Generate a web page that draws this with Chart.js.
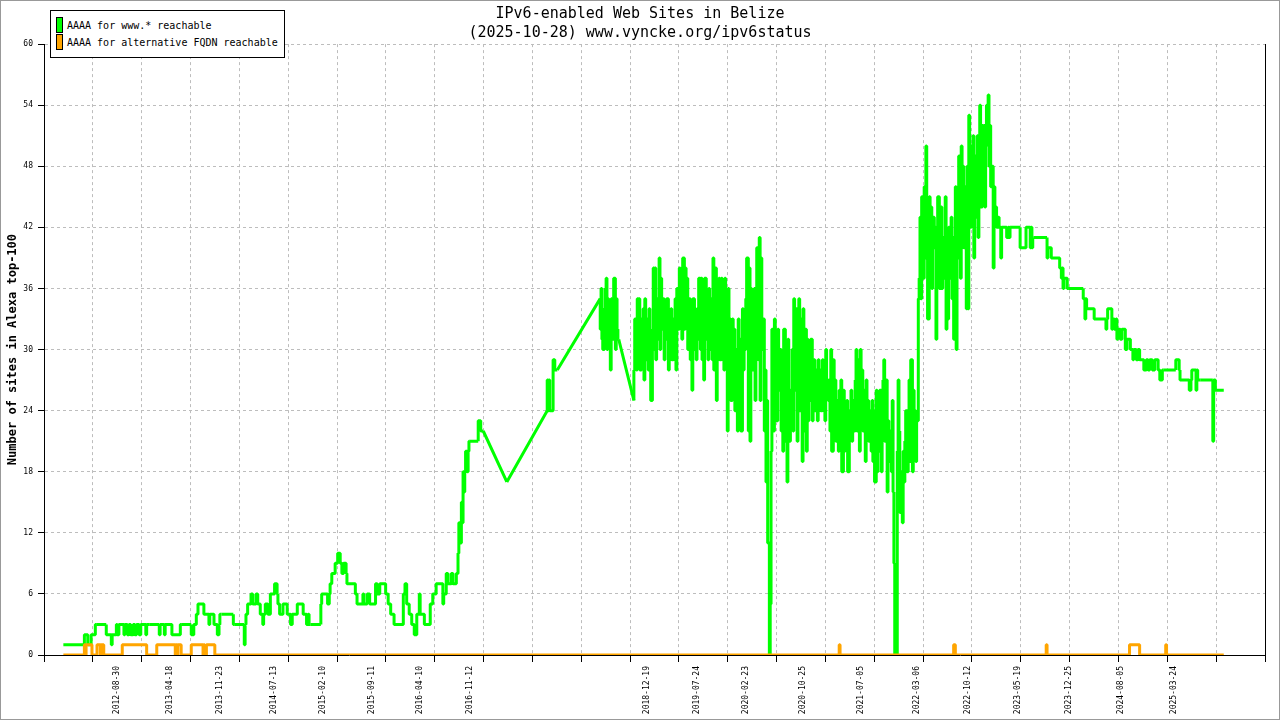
<!DOCTYPE html>
<html lang="en">
<head>
    <meta charset="UTF-8">
    <meta name="viewport" content="width=device-width, initial-scale=1.0">
    <title>IPv6-enabled Web Sites in Belize</title>
    <script src="https://cdn.jsdelivr.net/npm/chart.js"></script>
    <style>
        body {
            margin: 0;
            padding: 0;
            background-color: #fff;
        }

        #wrap {
            position: relative;
            width: 1280px;
            height: 720px;
        }

        #ipv6Chart {
            display: block;
        }

        #frame {
            position: absolute;
            left: 0;
            top: 0;
            width: 1280px;
            height: 720px;
            box-sizing: border-box;
            border: 1px solid #999;
            pointer-events: none;
        }

        #legend {
            position: absolute;
            left: 50px;
            top: 10px;
            width: 235px;
            height: 48px;
            box-sizing: border-box;
            border: 1px solid #000;
            background-color: #fff;
            font-family: 'DejaVu Sans Mono', monospace;
            font-size: 10px;
            color: #000;
        }

        #legend .swatch {
            position: absolute;
            left: 5px;
            width: 5px;
            height: 14px;
            border: 1px solid #000;
        }

        #legend .label {
            position: absolute;
            left: 16px;
            line-height: 12px;
            white-space: nowrap;
        }
    </style>
</head>
<body>
    <div id="wrap">
        <canvas id="ipv6Chart" width="1280" height="720"></canvas>
        <div id="legend"></div>
        <div id="frame"></div>
    </div>

    <script>
        // chart texts
        const chartTitle = ['IPv6-enabled Web Sites in Belize', '(2025-10-28) www.vyncke.org/ipv6status'];
        const yAxisTitle = 'Number of sites in Alexa top-100';
        const seriesNames = ['AAAA for www.* reachable', 'AAAA for alternative FQDN reachable'];
        const seriesColors = ['#00ff00', '#ffa500'];

        // dates printed under the x axis
        const tickDates = [
            '2012-08-30', '2013-04-18', '2013-11-23', '2014-07-13', '2015-02-10', '2015-09-11',
            '2016-04-10', '2016-11-12', '2018-12-19', '2019-07-24', '2020-02-23', '2020-10-25',
            '2021-07-05', '2022-03-06', '2022-10-12', '2023-05-19', '2023-12-25', '2024-08-05',
            '2025-03-24'
        ];

        // axis ranges (x in decimal years)
        const xMin = 2011.80;
        const xMax = 2026.31;
        const xGridSteps = 25;
        const yMin = 0;
        const yMax = 60;
        const yStep = 6;

        // no samples for longer than this (years): the line is drawn straight across
        const gapYears = 0.1;

        // AAAA for www.* reachable: sample dates (decimal years) and site counts
        const wwwYears = [
            2012.03, 2012.28, 2012.29, 2012.32, 2012.34, 2012.36, 2012.37, 2012.41, 2012.42, 2012.54,
            2012.55, 2012.60, 2012.61, 2012.62, 2012.66, 2012.67, 2012.69, 2012.71, 2012.75, 2012.76,
            2012.79, 2012.81, 2012.83, 2012.86, 2012.88, 2012.90, 2012.93, 2012.95, 2012.98, 2013.01,
            2013.02, 2013.05, 2013.17, 2013.18, 2013.19, 2013.23, 2013.24, 2013.25, 2013.32, 2013.33,
            2013.42, 2013.43, 2013.55, 2013.56, 2013.58, 2013.61, 2013.63, 2013.65, 2013.70, 2013.71,
            2013.76, 2013.77, 2013.78, 2013.82, 2013.83, 2013.86, 2013.88, 2013.89, 2013.91, 2014.05,
            2014.06, 2014.18, 2014.19, 2014.20, 2014.22, 2014.26, 2014.28, 2014.32, 2014.34, 2014.37,
            2014.40, 2014.41, 2014.43, 2014.46, 2014.49, 2014.51, 2014.54, 2014.57, 2014.58, 2014.60,
            2014.64, 2014.65, 2014.69, 2014.70, 2014.73, 2014.75, 2014.76, 2014.81, 2014.82, 2014.88,
            2014.89, 2014.92, 2014.94, 2014.95, 2014.97, 2015.09, 2015.10, 2015.13, 2015.17, 2015.19,
            2015.20, 2015.22, 2015.26, 2015.29, 2015.32, 2015.34, 2015.36, 2015.39, 2015.40, 2015.42,
            2015.50, 2015.52, 2015.54, 2015.59, 2015.60, 2015.64, 2015.67, 2015.70, 2015.74, 2015.76,
            2015.79, 2015.82, 2015.86, 2015.89, 2015.92, 2015.96, 2015.99, 2016.07, 2016.09, 2016.11,
            2016.14, 2016.17, 2016.20, 2016.23, 2016.26, 2016.27, 2016.29, 2016.32, 2016.34, 2016.39,
            2016.42, 2016.46, 2016.48, 2016.54, 2016.55, 2016.58, 2016.60, 2016.64, 2016.66, 2016.70,
            2016.72, 2016.73, 2016.74, 2016.76, 2016.77, 2016.78, 2016.79, 2016.80, 2016.81, 2016.83,
            2016.84, 2016.85, 2016.86, 2016.96, 2016.98, 2016.99, 2017.00, 2017.02, 2017.30, 2017.78,
            2017.79, 2017.80, 2017.81, 2017.82, 2017.85, 2017.87, 2017.88, 2017.90,
            2018.41, 2018.42, 2018.43, 2018.44, 2018.46, 2018.47, 2018.48, 2018.49, 2018.50, 2018.51,
            2018.53, 2018.54, 2018.55, 2018.56, 2018.57, 2018.59, 2018.60, 2018.61, 2018.62, 2018.63,
            2018.81, 2018.82, 2018.84, 2018.85, 2018.86, 2018.87,
            2018.88, 2018.90, 2018.91, 2018.92, 2018.93, 2018.94, 2018.95, 2018.97, 2018.98, 2018.99,
            2019.00, 2019.01, 2019.03, 2019.04, 2019.05, 2019.06, 2019.07, 2019.08, 2019.10, 2019.11,
            2019.12, 2019.13, 2019.14, 2019.16, 2019.17, 2019.18, 2019.19, 2019.20, 2019.22, 2019.23,
            2019.24, 2019.25, 2019.26, 2019.28, 2019.29, 2019.30, 2019.31, 2019.32, 2019.33, 2019.35,
            2019.36, 2019.37, 2019.38, 2019.39, 2019.41, 2019.42, 2019.43, 2019.44, 2019.45, 2019.47,
            2019.48, 2019.49, 2019.50, 2019.51, 2019.53, 2019.54, 2019.55, 2019.56, 2019.57, 2019.58,
            2019.60, 2019.61, 2019.62, 2019.63, 2019.64, 2019.65, 2019.67, 2019.68, 2019.69, 2019.70,
            2019.71, 2019.73, 2019.74, 2019.75, 2019.76, 2019.77, 2019.79, 2019.80, 2019.81, 2019.82,
            2019.83, 2019.85, 2019.86, 2019.87, 2019.88, 2019.89, 2019.90, 2019.92, 2019.93, 2019.94,
            2019.95, 2019.96, 2019.98, 2019.99, 2020.00, 2020.01, 2020.02, 2020.04, 2020.05, 2020.06,
            2020.07, 2020.08, 2020.10, 2020.11, 2020.12, 2020.13, 2020.14, 2020.15, 2020.17, 2020.18,
            2020.19, 2020.20, 2020.21, 2020.23, 2020.24, 2020.25, 2020.26, 2020.27, 2020.29, 2020.30,
            2020.31, 2020.32, 2020.33, 2020.34, 2020.36, 2020.37, 2020.38, 2020.39, 2020.40, 2020.42,
            2020.43, 2020.44, 2020.45, 2020.46, 2020.48, 2020.49, 2020.50, 2020.51, 2020.52, 2020.53,
            2020.55, 2020.56, 2020.57, 2020.58, 2020.59, 2020.61, 2020.62, 2020.63, 2020.64, 2020.65,
            2020.67, 2020.68, 2020.69, 2020.70, 2020.71, 2020.72, 2020.74, 2020.75, 2020.76, 2020.77,
            2020.78, 2020.80, 2020.81, 2020.82, 2020.83, 2020.84, 2020.86, 2020.87, 2020.88, 2020.89,
            2020.90, 2020.91, 2020.93, 2020.94, 2020.95, 2020.96, 2020.97, 2020.99, 2021.00, 2021.01,
            2021.02, 2021.03, 2021.05, 2021.06, 2021.07, 2021.08, 2021.09, 2021.10, 2021.12, 2021.13,
            2021.14, 2021.15, 2021.16, 2021.18, 2021.19, 2021.20, 2021.21, 2021.22, 2021.24, 2021.25,
            2021.26, 2021.27, 2021.28, 2021.30, 2021.31, 2021.32, 2021.33, 2021.34, 2021.35, 2021.37,
            2021.38, 2021.39, 2021.40, 2021.41, 2021.43, 2021.44, 2021.45, 2021.46, 2021.47, 2021.49,
            2021.50, 2021.51, 2021.52, 2021.53, 2021.55, 2021.56, 2021.57, 2021.58, 2021.59, 2021.60,
            2021.62, 2021.63, 2021.64, 2021.65, 2021.66, 2021.67, 2021.69, 2021.70, 2021.71, 2021.72,
            2021.73, 2021.75, 2021.76, 2021.77, 2021.78, 2021.79, 2021.81, 2021.82, 2021.83, 2021.84,
            2021.85, 2021.87, 2021.88, 2021.89, 2021.90, 2021.91, 2021.92, 2021.94, 2021.95, 2021.96,
            2021.97, 2021.98, 2022.00, 2022.01, 2022.02, 2022.03, 2022.04, 2022.06, 2022.07, 2022.08,
            2022.09, 2022.10, 2022.12, 2022.13, 2022.14, 2022.15, 2022.16, 2022.17, 2022.19, 2022.20,
            2022.21, 2022.22, 2022.23, 2022.25, 2022.26, 2022.27, 2022.28, 2022.29, 2022.30, 2022.32,
            2022.33, 2022.34, 2022.35, 2022.36, 2022.38, 2022.39, 2022.40, 2022.41, 2022.42, 2022.44,
            2022.45, 2022.46, 2022.47, 2022.48, 2022.50, 2022.51, 2022.52, 2022.53, 2022.54, 2022.55,
            2022.57, 2022.58, 2022.59, 2022.60, 2022.61, 2022.63, 2022.64, 2022.65, 2022.66, 2022.67,
            2022.69, 2022.70, 2022.71, 2022.72, 2022.73, 2022.74, 2022.76, 2022.77, 2022.78, 2022.79,
            2022.80, 2022.82, 2022.83, 2022.84, 2022.85, 2022.86, 2022.88, 2022.89, 2022.90, 2022.91,
            2022.92, 2022.93, 2022.95, 2022.96, 2022.97, 2022.98, 2022.99, 2023.00, 2023.02, 2023.03,
            2023.04, 2023.05, 2023.07, 2023.08, 2023.09, 2023.10, 2023.11, 2023.12, 2023.14, 2023.15,
            2023.16, 2023.17, 2023.18, 2023.20, 2023.24, 2023.26, 2023.27, 2023.28, 2023.29, 2023.40,
            2023.41, 2023.47, 2023.48, 2023.52, 2023.53, 2023.54, 2023.55, 2023.56, 2023.72, 2023.73,
            2023.74, 2023.77, 2023.78, 2023.87, 2023.89, 2023.90, 2023.91, 2023.92, 2023.93, 2023.96,
            2023.97, 2024.15, 2024.16, 2024.17, 2024.18, 2024.19, 2024.21, 2024.28, 2024.29, 2024.42,
            2024.43, 2024.44, 2024.47, 2024.49, 2024.50, 2024.52, 2024.54, 2024.55, 2024.56, 2024.59,
            2024.61, 2024.63, 2024.65, 2024.67, 2024.68, 2024.71, 2024.72, 2024.74, 2024.75, 2024.78,
            2024.80, 2024.82, 2024.85, 2024.87, 2024.90, 2024.92, 2024.94, 2024.97, 2025.00, 2025.04,
            2025.06, 2025.07, 2025.09, 2025.10, 2025.25, 2025.26, 2025.29, 2025.30, 2025.32, 2025.41,
            2025.43, 2025.44, 2025.47, 2025.49, 2025.50, 2025.51, 2025.54, 2025.69, 2025.70, 2025.72,
            2025.73, 2025.82
        ];
        const wwwSites = [
            1, 1, 2, 2, 1, 1, 2, 2, 3, 3,
            2, 2, 1, 2, 2, 3, 2, 3, 3, 2,
            3, 2, 3, 2, 3, 2, 3, 2, 3, 3,
            2, 3, 3, 2, 3, 3, 2, 3, 3, 2,
            2, 3, 3, 2, 2, 3, 4, 5, 5, 4,
            4, 3, 4, 4, 3, 3, 2, 3, 4, 4,
            3, 3, 1, 3, 4, 5, 6, 5, 6, 5,
            4, 3, 4, 5, 4, 6, 6, 7, 6, 5,
            4, 5, 5, 4, 4, 3, 4, 4, 5, 5,
            4, 4, 3, 4, 3, 3, 5, 6, 6, 5,
            6, 7, 8, 9, 10, 9, 8, 9, 8, 7,
            7, 6, 5, 5, 6, 5, 6, 5, 5, 7,
            6, 7, 7, 6, 5, 4, 3, 3, 6, 7,
            5, 4, 3, 2, 4, 6, 4, 4, 3, 3,
            5, 6, 7, 7, 5, 6, 8, 7, 8, 7,
            8, 10, 13, 11, 15, 13, 18, 16, 18, 20,
            18, 20, 21, 21, 23, 23, 22, 22, 17, 24,
            27, 24, 27, 24, 24, 29, 28, 28,
            35, 32, 36, 31, 30, 34, 36, 37, 30, 35,
            33, 28, 35, 34, 31, 37, 30, 35, 32, 31,
            25, 28, 33, 28, 35, 30,
            35, 28, 33, 30, 34, 27, 35, 29, 33, 28,
            34, 30, 25, 32, 38, 30, 38, 29, 35, 31,
            39, 30, 37, 32, 35, 29, 34, 31, 35, 28,
            33, 30, 34, 29, 33, 31, 35, 28, 36, 32,
            38, 33, 37, 31, 39, 32, 38, 33, 37, 30,
            35, 29, 34, 26, 35, 30, 33, 29, 34, 31,
            37, 30, 37, 29, 36, 27, 37, 31, 35, 29,
            36, 30, 35, 29, 39, 28, 38, 25, 35, 30,
            37, 29, 37, 31, 36, 28, 37, 30, 22, 36,
            28, 33, 25, 33, 27, 32, 24, 30, 22, 33,
            26, 31, 22, 34, 28, 33, 30, 35, 39, 22,
            38, 21, 36, 28, 30, 36, 25, 35, 40, 29,
            41, 25, 39, 30, 33, 22, 28, 17, 25, 11,
            0, 5, 20, 32, 22, 33, 24, 31, 23, 32,
            26, 30, 22, 29, 20, 32, 21, 28, 17, 31,
            21, 26, 24, 30, 22, 35, 26, 34, 21, 29,
            35, 24, 33, 19, 34, 22, 32, 20, 31, 23,
            29, 25, 31, 23, 28, 29, 24, 28, 23, 29,
            25, 28, 24, 29, 26, 28, 23, 30, 27, 25,
            27, 22, 30, 20, 29, 24, 27, 21, 25, 20,
            26, 23, 27, 18, 26, 20, 24, 21, 25, 18,
            24, 22, 26, 21, 25, 22, 27, 30, 22, 29,
            20, 30, 24, 28, 22, 26, 19, 27, 23, 25,
            21, 24, 20, 25, 19, 24, 17, 26, 18, 25,
            20, 26, 18, 24, 27, 29, 21, 27, 16, 23,
            19, 22, 18, 25, 16, 9, 0, 0, 20, 27,
            22, 14, 18, 13, 20, 17, 21, 24, 18, 23,
            27, 19, 29, 18, 26, 20, 24, 19, 23, 35,
            37, 43, 35, 45, 37, 46, 39, 50, 42, 33,
            45, 38, 44, 36, 43, 40, 42, 31, 38, 45,
            36, 40, 44, 36, 41, 37, 45, 32, 40, 33,
            42, 37, 43, 35, 41, 31, 46, 30, 42, 39,
            49, 37, 50, 42, 48, 40, 46, 34, 48, 34,
            53, 42, 50, 45, 51, 39, 49, 43, 51, 41,
            48, 54, 44, 52, 46, 52, 44, 50, 54, 55,
            48, 52, 46, 48, 38, 46, 43, 44, 42, 43,
            42, 42, 39, 42, 42, 41, 42, 41, 42, 42,
            40, 40, 42, 42, 40, 42, 40, 41, 41, 39,
            40, 40, 39, 39, 38, 37, 38, 36, 37, 37,
            36, 36, 35, 35, 33, 35, 34, 34, 33, 33,
            32, 33, 34, 34, 32, 33, 32, 33, 31, 32,
            31, 32, 32, 30, 31, 31, 30, 30, 29, 30,
            29, 30, 29, 29, 28, 29, 28, 29, 28, 29,
            28, 27, 27, 28, 28, 29, 29, 28, 27, 27,
            26, 27, 28, 28, 26, 28, 27, 27, 21, 27,
            26, 26
        ];

        // AAAA for alternative FQDN reachable
        const altYears = [
            2012.03, 2012.28, 2012.29, 2012.30, 2012.31, 2012.37, 2012.38, 2012.43, 2012.44, 2012.47,
            2012.48, 2012.49, 2012.51, 2012.53, 2012.73, 2012.74, 2013.02, 2013.04, 2013.14, 2013.15,
            2013.36, 2013.37, 2013.38, 2013.39, 2013.40, 2013.43, 2013.44, 2013.55, 2013.56, 2013.69,
            2013.70, 2013.71, 2013.73, 2013.74, 2013.83, 2013.84, 2021.25, 2021.26, 2021.27, 2022.61,
            2022.63, 2022.64, 2023.71, 2023.72, 2023.73, 2024.70, 2024.73, 2024.82, 2024.84, 2025.13,
            2025.14, 2025.15, 2025.82
        ];
        const altSites = [
            0, 0, 1, 0, 1, 1, 0, 0, 1, 1,
            0, 1, 1, 0, 0, 1, 1, 0, 0, 1,
            1, 0, 1, 0, 1, 1, 0, 0, 1, 1,
            0, 1, 0, 1, 1, 0, 0, 1, 0, 0,
            1, 0, 0, 1, 0, 0, 1, 1, 0, 0,
            1, 0, 0
        ];

        // 'YYYY-MM-DD' -> decimal year
        function decimalYear(iso) {
            const [y, m, d] = iso.split('-').map(Number);
            const start = Date.UTC(y, 0, 1);
            const end = Date.UTC(y + 1, 0, 1);
            return y + (Date.UTC(y, m - 1, d) - start) / (end - start);
        }

        // evenly spaced grid ticks plus the dated label ticks
        const xTicks = [];
        for (let i = 0; i <= xGridSteps; i++) {
            xTicks.push({ value: xMin + (xMax - xMin) * i / xGridSteps, edge: i === 0 || i === xGridSteps });
        }
        tickDates.forEach(d => xTicks.push({ value: decimalYear(d), dateLabel: d }));
        xTicks.sort((a, b) => a.value - b.value);

        // daily-style steps where samples are dense, straight links across the gaps
        const wwwSteps = [];
        const wwwLinks = [];
        wwwYears.forEach((x, i) => {
            wwwSteps.push({ x: x, y: wwwSites[i] });
            const next = wwwYears[i + 1];
            if (next !== undefined && next - x > gapYears) {
                wwwSteps.push({ x: x, y: null });
                wwwLinks.push({ x: x, y: wwwSites[i] }, { x: next, y: wwwSites[i + 1] }, { x: next, y: null });
            }
        });

        // legend box
        const legend = document.getElementById('legend');
        seriesNames.forEach((name, i) => {
            const sw = document.createElement('div');
            sw.className = 'swatch';
            sw.style.top = (6 + i * 17) + 'px';
            sw.style.backgroundColor = seriesColors[i];
            legend.appendChild(sw);

            const lbl = document.createElement('div');
            lbl.className = 'label';
            lbl.style.top = (9 + i * 17) + 'px';
            lbl.textContent = name;
            legend.appendChild(lbl);
        });

        Chart.defaults.font.family = "'DejaVu Sans Mono', monospace";
        Chart.defaults.color = '#000';

        const lineStyle = {
            borderWidth: 3,
            borderJoinStyle: 'bevel',
            pointRadius: 0,
            tension: 0
        };

        const ctx = document.getElementById('ipv6Chart').getContext('2d');
        new Chart(ctx, {
            type: 'line',
            data: {
                datasets: [{
                    ...lineStyle,
                    label: seriesNames[1],
                    data: altYears.map((x, i) => ({ x: x, y: altSites[i] })),
                    borderColor: seriesColors[1],
                    stepped: 'after',
                    order: 0
                }, {
                    ...lineStyle,
                    label: seriesNames[0],
                    data: wwwSteps,
                    borderColor: seriesColors[0],
                    stepped: 'after',
                    order: 1
                }, {
                    ...lineStyle,
                    label: seriesNames[0] + ' (gaps)',
                    data: wwwLinks,
                    borderColor: seriesColors[0],
                    order: 2
                }]
            },
            options: {
                responsive: false,
                animation: false,
                layout: {
                    padding: { left: 0, right: 0, top: 0, bottom: 0 }
                },
                plugins: {
                    legend: { display: false },
                    tooltip: { enabled: false },
                    title: {
                        display: true,
                        text: chartTitle,
                        color: '#000',
                        font: { size: 15, weight: 'normal', lineHeight: 1.27 },
                        padding: { top: 5, bottom: 1 }
                    }
                },
                scales: {
                    x: {
                        type: 'linear',
                        min: xMin,
                        max: xMax,
                        afterBuildTicks: scale => { scale.ticks = xTicks; },
                        afterFit: scale => { scale.height = 65; },
                        ticks: {
                            autoSkip: false,
                            minRotation: 90,
                            maxRotation: 90,
                            padding: 4,
                            font: { size: 8 },
                            callback: (value, index, ticks) => ticks[index].dateLabel || ''
                        },
                        grid: {
                            color: c => (c.tick && (c.tick.dateLabel || c.tick.edge)) ? 'rgba(0,0,0,0)' : '#bdbdbd',
                            tickColor: c => (c.tick && c.tick.dateLabel) ? 'rgba(0,0,0,0)' : '#000',
                            tickLength: 7,
                            tickBorderDash: []
                        },
                        border: { color: '#000', dash: [3, 3] }
                    },
                    y: {
                        position: 'left',
                        min: yMin,
                        max: yMax,
                        afterFit: scale => { scale.width = 44; },
                        ticks: {
                            stepSize: yStep,
                            padding: 5,
                            font: { size: 8 }
                        },
                        grid: {
                            color: c => (c.tick && c.tick.value === yMin) ? 'rgba(0,0,0,0)' : '#bdbdbd',
                            tickColor: '#000',
                            tickLength: 6,
                            tickBorderDash: []
                        },
                        border: { color: '#000', dash: [3, 3] },
                        title: {
                            display: true,
                            text: yAxisTitle,
                            color: '#000',
                            font: { size: 12, weight: 'bold' },
                            padding: { top: 6, bottom: 0 }
                        }
                    },
                    y2: {
                        position: 'right',
                        min: yMin,
                        max: yMax,
                        afterFit: scale => { scale.width = 15; },
                        ticks: { display: false },
                        grid: { display: false },
                        border: { color: '#000' }
                    }
                }
            }
        });
    </script>
</body>
</html>
